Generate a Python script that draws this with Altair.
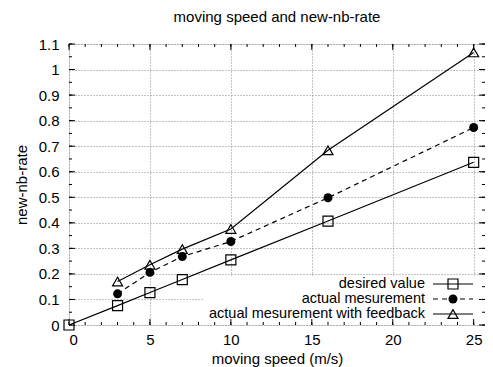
import altair as alt
import pandas as pd

FONT = "Liberation Sans"
FS = 15
LFS = 14.5

# ---- data ----
speed_desired = [0, 3, 5, 7, 10, 16, 25]
rate_desired = [0.0, 0.076, 0.127, 0.178, 0.255, 0.407, 0.637]

speed_actual = [3, 5, 7, 10, 16, 25]
rate_actual = [0.122, 0.206, 0.268, 0.327, 0.498, 0.773]

speed_feedback = [3, 5, 7, 10, 16, 25]
rate_feedback = [0.170, 0.236, 0.297, 0.376, 0.684, 1.067]

series_labels = ["desired value", "actual mesurement", "actual mesurement with feedback"]

x_major = [0, 5, 10, 15, 20, 25]
x_minor = list(range(0, 26))
y_major = [0, 0.1, 0.2, 0.3, 0.4, 0.5, 0.6, 0.7, 0.8, 0.9, 1.0, 1.1]
y_minor = [round(i * 0.05, 2) for i in range(0, 23)]

W, H = 416, 281
X_MAX = 25.7

xs = alt.Scale(domain=[0, X_MAX], nice=False, zero=False)
ys = alt.Scale(domain=[0, 1.1], nice=False, zero=False)

xaxis = alt.Axis(values=x_major, title="moving speed (m/s)", grid=True, ticks=False, tickSize=0,
                 domain=False, labelPadding=7, labelFontSize=FS, labelFont=FONT,
                 titleFont=FONT, titleFontSize=FS, titleFontWeight="normal",
                 titleY=33, titleBaseline="middle",
                 gridDash=[1, 2], gridColor="#888", labelColor="black", titleColor="black")
yaxis = alt.Axis(values=y_major, title="new-nb-rate", grid=True, ticks=False, tickSize=0,
                 domain=False, labelPadding=10, labelFontSize=FS, labelFont=FONT, format="~g",
                 titleFont=FONT, titleFontSize=FS, titleFontWeight="normal",
                 titleX=-48, titleY=H / 2, titleBaseline="middle", titleAngle=270,
                 gridDash=[1, 2], gridColor="#888", labelColor="black", titleColor="black")

df_d = pd.DataFrame({"x": speed_desired, "y": rate_desired})
df_a = pd.DataFrame({"x": speed_actual, "y": rate_actual})
df_f = pd.DataFrame({"x": speed_feedback, "y": rate_feedback})

X = alt.X("x:Q", scale=xs, axis=xaxis)
Y = alt.Y("y:Q", scale=ys, axis=yaxis)

layers = []

# base layer carrying the axes / grid
layers.append(alt.Chart(df_d).mark_point(opacity=0).encode(x=X, y=Y))

# legend opaque box (covers grid)
one = pd.DataFrame({"k": [0]})
layers.append(alt.Chart(one).mark_rect(fill="white", stroke=None).encode(
    x=alt.value(134), x2=alt.value(W - 1), y=alt.value(232), y2=alt.value(H - 1)))

# inward ticks
xmaj = pd.DataFrame({"x": x_major})
xmin = pd.DataFrame({"x": x_minor})
ymaj = pd.DataFrame({"y": y_major})
ymin = pd.DataFrame({"y": y_minor})
for dfx, ln in [(xmin, 3), (xmaj, 6)]:
    layers.append(alt.Chart(dfx).mark_rule(color="black", strokeWidth=1).encode(
        x=X, y=alt.value(H), y2=alt.value(H - ln)))
    layers.append(alt.Chart(dfx).mark_rule(color="black", strokeWidth=1).encode(
        x=X, y=alt.value(0), y2=alt.value(ln)))
for dfy, ln in [(ymin, 3), (ymaj, 6)]:
    layers.append(alt.Chart(dfy).mark_rule(color="black", strokeWidth=1).encode(
        y=Y, x=alt.value(0), x2=alt.value(ln)))
    layers.append(alt.Chart(dfy).mark_rule(color="black", strokeWidth=1).encode(
        y=Y, x=alt.value(W), x2=alt.value(W - ln)))

# series
LW = 1.2
layers.append(alt.Chart(df_d).mark_line(color="black", strokeWidth=LW).encode(x=X, y=Y))
layers.append(alt.Chart(df_d).mark_point(shape="square", size=100, filled=False, color="black",
                                         strokeWidth=LW, opacity=1).encode(x=X, y=Y))
layers.append(alt.Chart(df_a).mark_line(color="black", strokeWidth=LW, strokeDash=[5, 4]).encode(x=X, y=Y))
layers.append(alt.Chart(df_a).mark_point(shape="circle", size=80, filled=True, color="black",
                                         opacity=1).encode(x=X, y=Y))
layers.append(alt.Chart(df_f).mark_line(color="black", strokeWidth=LW).encode(x=X, y=Y))
layers.append(alt.Chart(df_f).mark_point(shape="triangle-up", size=100, filled=False, color="black",
                                         strokeWidth=LW, opacity=1).encode(x=X, y=Y))

# legend
rows = [240, 255, 270]
shapes = ["square", "circle", "triangle-up"]
fills = [False, True, False]
dashes = [[1, 0], [5, 4], [1, 0]]
sizes = [100, 80, 100]
for lab, ry, shp, fl, ds, sz in zip(series_labels, rows, shapes, fills, dashes, sizes):
    layers.append(alt.Chart(one).mark_text(align="right", baseline="middle", font=FONT, fontSize=LFS,
                                           color="black").encode(
        x=alt.value(356), y=alt.value(ry), text=alt.value(lab)))
    layers.append(alt.Chart(one).mark_rule(color="black", strokeWidth=LW, strokeDash=ds).encode(
        x=alt.value(364), x2=alt.value(404), y=alt.value(ry)))
    layers.append(alt.Chart(one).mark_point(shape=shp, size=sz, filled=fl, color="black",
                                            strokeWidth=LW, opacity=1).encode(
        x=alt.value(384), y=alt.value(ry)))

chart = alt.layer(*layers).properties(
    width=W, height=H,
    autosize=alt.AutoSizeParams(type="none"),
    padding={"left": 61, "top": 36, "right": 0, "bottom": 42},
    title=alt.TitleParams("moving speed and new-nb-rate", font=FONT, fontSize=FS,
                          fontWeight="normal", anchor="middle", offset=12, color="black"),
).configure_view(stroke="black", strokeWidth=1).configure(background="white")

chart.save("out.html", embed_options={"renderer": "svg", "actions": False})
